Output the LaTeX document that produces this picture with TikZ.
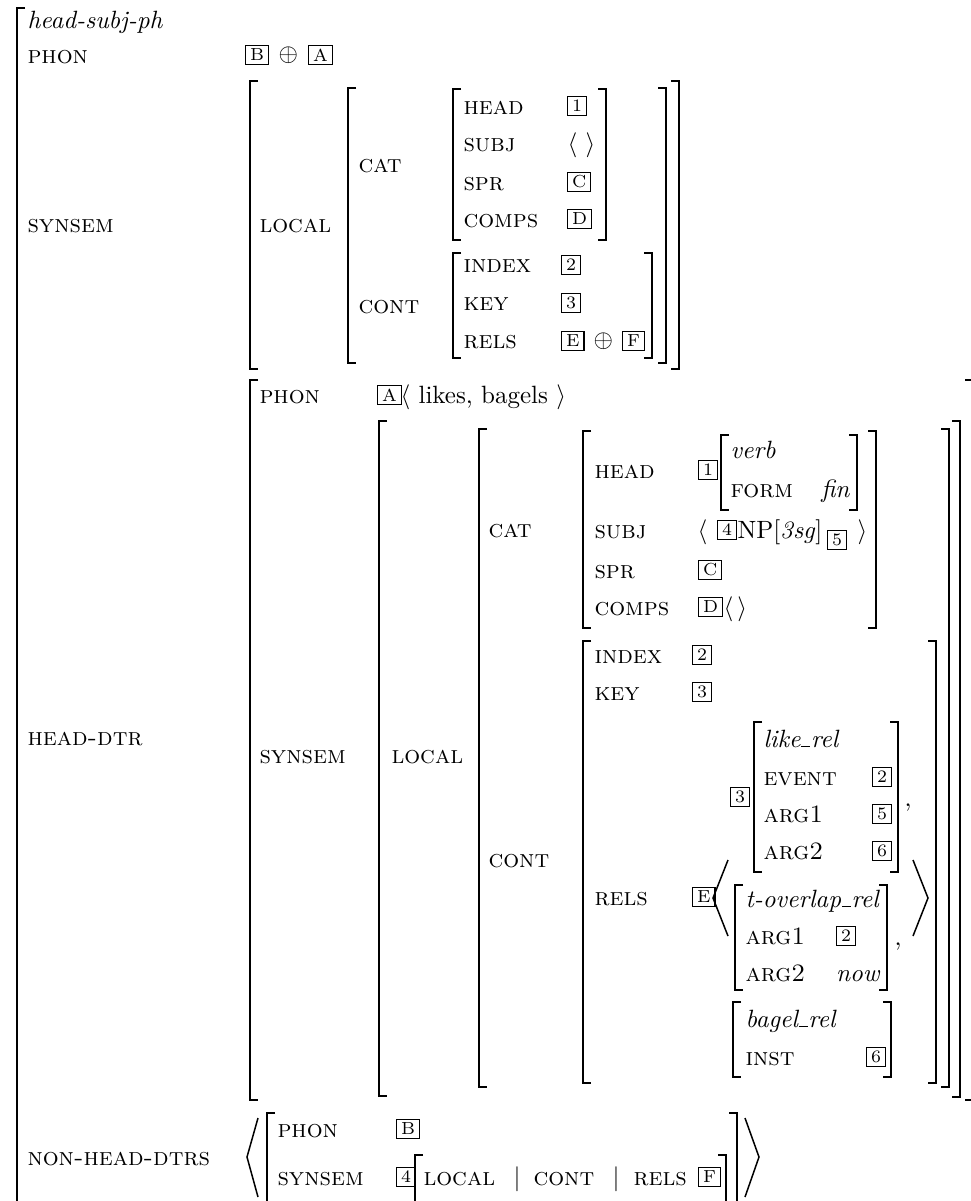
\documentclass[tikz,border=0pt]{standalone}
\tikzset{
  px/.style={x=0.4pt,y=-0.4pt},
  lab/.style={anchor=base west,inner sep=0pt},
  ft/.style={lab,font=\scshape},
  it/.style={lab,font=\itshape},
  tg/.style={draw,line width=0.45pt,anchor=west,inner xsep=1.8pt,inner ysep=0pt,minimum height=7.6pt,font=\scriptsize},
  brk/.style={line width=0.7pt},
  ang/.style={line width=0.6pt,line join=miter}
}
\newcommand{\Lb}[3]{\draw[brk] (#1+8,#2) -- (#1,#2) -- (#1,#3) -- (#1+8,#3);}
\newcommand{\Rb}[3]{\draw[brk] (#1-8,#2) -- (#1,#2) -- (#1,#3) -- (#1-8,#3);}
\newcommand{\us}{\kern0.03em\rule{0.36em}{0.42pt}\kern0.03em}
\begin{document}
\begin{tikzpicture}[px]
\useasboundingbox (0,0) rectangle (971,1201);
\clip (0,0) rectangle (971,1201);
% ---------- outer
\draw[brk] (25,8) -- (17,8) -- (17,1215);
\node[it] (type) at (27,28) {head-subj-ph};
\node[ft] (phon0) at (27,63) {phon};
\node[tg] (tB0) at (245,55) {B};
\node[anchor=west,inner sep=0pt] (op0) at (278,55) {$\oplus$};
\node[tg] (tA0) at (308,55) {A};
% ---------- SYNSEM
\node[ft] (syn0) at (27,232) {synsem};
\Lb{250}{81}{369}
\Rb{679}{81}{369}
\node[ft] (loc0) at (259,232) {local};
\Lb{348}{88}{363}
\Rb{666}{88}{363}
\node[ft] (cat0) at (358,172) {cat};
\node[ft] (cont0) at (358,313) {cont};
\Lb{453}{89}{240}
\Rb{606}{89}{240}
\node[ft] (head0) at (463,114) {head};
\node[ft] (subj0) at (463,151) {subj};
\node[ft] (spr0) at (463,190) {spr};
\node[ft] (comps0) at (463,227) {comps};
\node[tg] (t10) at (567,106) {1};
\node[lab] (l0) at (567,151) {$\langle\ \rangle$};
\node[tg] (tC0) at (567,182) {C};
\node[tg] (tD0) at (567,219) {D};
\Lb{453}{253}{358}
\Rb{652}{253}{358}
\node[ft] (index0) at (463,272) {index};
\node[ft] (key0) at (463,310) {key};
\node[ft] (rels0) at (463,348) {rels};
\node[tg] (t20) at (561,265) {2};
\node[tg] (t30) at (561,303) {3};
\node[tg] (tE0) at (561,341) {E};
\node[anchor=west,inner sep=0pt] (op1) at (593,341) {$\oplus$};
\node[tg] (tF0) at (622,341) {F};
% ---------- HEAD-DTR
\node[ft] (hd) at (27,745) {head-dtr};
\Lb{250}{380}{1100}
\draw[brk] (965,380) -- (973,380) -- (973,1100) -- (965,1100);
\node[ft] (phon1) at (259,403) {phon};
\node[tg] (tA1) at (377,395) {A};
\node[lab] (words) at (400,403) {$\langle$ likes, bagels $\rangle$};
\node[ft] (syn1) at (259,763) {synsem};
\Lb{379}{421}{1096}
\Rb{960}{421}{1097}
\node[ft] (loc1) at (391,763) {local};
\Lb{479}{429}{1087}
\Rb{949}{429}{1087}
\node[ft] (cat1) at (488,537) {cat};
\node[ft] (cont1) at (488,867) {cont};
% CAT
\Lb{583}{431}{628}
\Rb{876}{431}{628}
\node[ft] (head1) at (594,478) {head};
\node[tg] (t11) at (698,470) {1};
\Lb{721}{435}{510}
\Rb{857}{435}{510}
\node[it] (verb) at (730,458) {verb};
\node[ft] (form) at (730,497) {form};
\node[anchor=base east,inner sep=0pt,font=\itshape] (fin) at (850,497) {fin};
\node[ft] (subj1) at (594,538) {subj};
\node[lab] (la1) at (697,538) {$\langle$};
\node[tg] (t41) at (717,530) {4};
\node[lab] (np) at (737,538) {NP[\textit{3sg}]};
\node[tg] (t51) at (827,540) {5};
\node[lab] (ra1) at (857,538) {$\rangle$};
\node[ft] (spr1) at (594,578) {spr};
\node[tg] (tC1) at (698,570) {C};
\node[ft] (comps1) at (594,615) {comps};
\node[tg] (tD1) at (698,607) {D};
\node[lab] (l1) at (723,615) {$\langle\,\rangle$};
% CONT
\Lb{583}{641}{1083}
\Rb{936}{641}{1083}
\node[ft] (index1) at (594,663) {index};
\node[tg] (t21) at (692,655) {2};
\node[ft] (key1) at (594,700) {key};
\node[tg] (t31) at (692,692) {3};
\node[ft] (rels1) at (594,905) {rels};
\node[tg] (tE1) at (692,897) {E};
\draw[ang] (728,860) -- (713,898) -- (728,936);
\draw[ang] (913,860) -- (928,898) -- (913,936);
% like_rel
\node[tg] (t3b) at (730,797) {3};
\Lb{754}{722}{872}
\Rb{898}{722}{872}
\node[it] (like) at (763,747) {like\us rel};
\node[ft] (event) at (763,785) {event};
\node[tg] (t2b) at (872,777) {2};
\node[ft] (arg1a) at (763,822) {arg1};
\node[tg] (t5b) at (872,814) {5};
\node[ft] (arg2a) at (763,859) {arg2};
\node[tg] (t6b) at (872,851) {6};
\node[lab] (c1) at (904,806) {,};
% t-overlap_rel
\Lb{735}{885}{990}
\Rb{887}{885}{990}
\node[it] (tov) at (745,907) {t-overlap\us rel};
\node[ft] (arg1b) at (745,944) {arg1};
\node[tg] (t2c) at (836,936) {2};
\node[ft] (arg2b) at (745,981) {arg2};
\node[anchor=base east,inner sep=0pt,font=\itshape] (now) at (880,981) {now};
\node[lab] (c2) at (894,945) {,};
% bagel_rel
\Lb{733}{1002}{1077}
\Rb{891}{1002}{1077}
\node[it] (bagel) at (745,1027) {bagel\us rel};
\node[ft] (inst) at (745,1065) {inst};
\node[tg] (t6c) at (866,1057) {6};
% ---------- NON-HEAD-DTRS
\node[ft] (nhd) at (27,1165) {non-head-dtrs};
\draw[ang] (258,1118) -- (247,1157) -- (258,1197);
\draw[ang] (745,1118) -- (759,1157) -- (745,1197);
\Lb{267}{1113}{1206}
\Rb{737}{1113}{1206}
\node[ft] (phon2) at (277,1137) {phon};
\node[tg] (tB2) at (396,1129) {B};
\node[ft] (syn2) at (277,1185) {synsem};
\node[tg] (t42) at (396,1177) {4};
\Lb{415}{1155}{1206}
\Rb{726}{1155}{1206}
\node[ft] (loc2) at (423,1185) {local};
\node[lab] (bar1) at (513,1185) {$|$};
\node[ft] (cont2) at (533,1185) {cont};
\node[lab] (bar2) at (612,1185) {$|$};
\node[ft] (rels2) at (633,1185) {rels};
\node[tg] (tF2) at (698,1177) {F};
\end{tikzpicture}
\end{document}
